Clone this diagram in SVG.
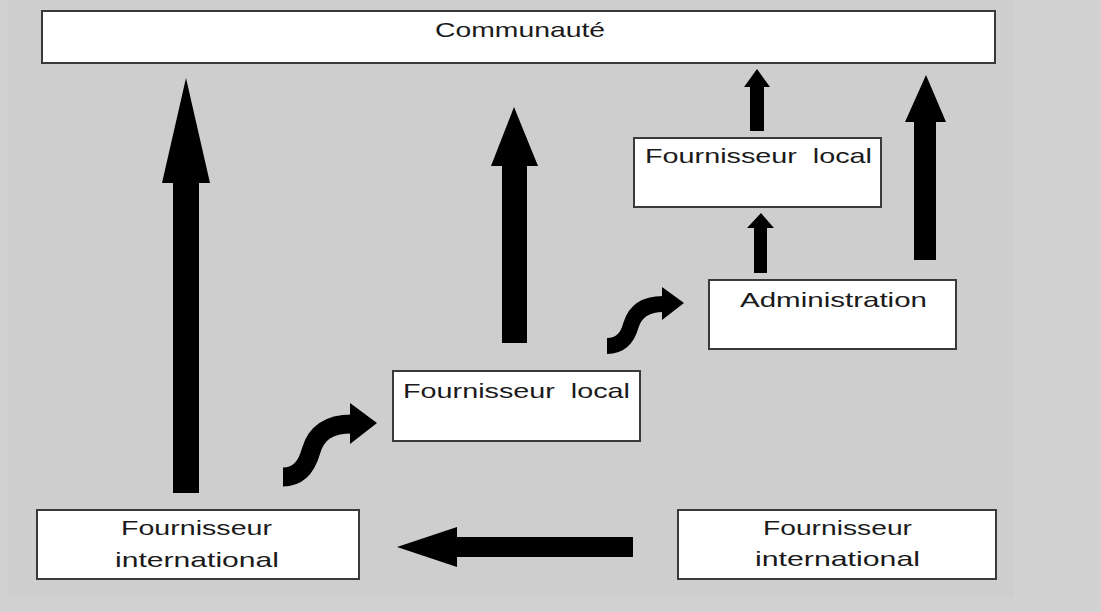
<svg xmlns="http://www.w3.org/2000/svg" width="1101" height="612" viewBox="0 0 1101 612">
<style>
.box{fill:#ffffff;stroke:#3a3a3a;stroke-width:2}
.lbl{font-family:"Liberation Sans","DejaVu Sans",sans-serif;font-size:21px;fill:#1a1a1a}
.arr{fill:#000000}
.curve{fill:none;stroke:#000000}
</style>
<rect x="0" y="0" width="1101" height="612" fill="#d2d2d2"/>
<rect x="8" y="0" width="1006" height="597" fill="#cecece"/>
<g id="connectors">
<polygon class="arr" points="186,78 210,183 199,183 199,493 173,493 173,183 162,183"/>
<polygon class="arr" points="514,107 538,166 527,166 527,343 502,343 502,166 491,166"/>
<polygon class="arr" points="926,75 946,122 936,122 936,260 914,260 914,122 905,122"/>
<polygon class="arr" points="757,69 770,87 764,87 764,131 750,131 750,87 744,87"/>
<polygon class="arr" points="761,213 774,228 767,228 767,273 754,273 754,228 747,228"/>
<polygon class="arr" points="397,547 457,527 457,537 633,537 633,557 457,557 457,567"/>
<path class="curve" stroke-width="19" d="M283,477 C300,477 307,465 311,451 C316,434 327,424 352,424"/>
<polygon class="arr" points="350,403 377,423 350,444"/>
<path class="curve" stroke-width="16" d="M607,346 C622,346 628,336 631,325 C635,312 645,304 663,304"/>
<polygon class="arr" points="662,287 684,303 662,320"/>
</g>
<g id="communaute">
<rect class="box" x="42" y="11" width="953" height="52"/>
<text class="lbl" x="435" y="37" textLength="170" lengthAdjust="spacingAndGlyphs">Communauté</text>
</g>
<g id="fournisseur-local-haut">
<rect class="box" x="634" y="138" width="247" height="69"/>
<text class="lbl" x="645" y="163" textLength="227" lengthAdjust="spacingAndGlyphs">Fournisseur&#160; local</text>
</g>
<g id="administration">
<rect class="box" x="709" y="280" width="247" height="69"/>
<text class="lbl" x="740" y="307" textLength="187" lengthAdjust="spacingAndGlyphs">Administration</text>
</g>
<g id="fournisseur-local-milieu">
<rect class="box" x="393" y="371" width="247" height="70"/>
<text class="lbl" x="403" y="398" textLength="227" lengthAdjust="spacingAndGlyphs">Fournisseur&#160; local</text>
</g>
<g id="fournisseur-international-gauche">
<rect class="box" x="37" y="510" width="322" height="69"/>
<text class="lbl" x="121" y="535" textLength="151" lengthAdjust="spacingAndGlyphs">Fournisseur</text>
<text class="lbl" x="115" y="567" textLength="164" lengthAdjust="spacingAndGlyphs">international</text>
</g>
<g id="fournisseur-international-droite">
<rect class="box" x="678" y="510" width="318" height="69"/>
<text class="lbl" x="763" y="535" textLength="149" lengthAdjust="spacingAndGlyphs">Fournisseur</text>
<text class="lbl" x="755" y="566" textLength="165" lengthAdjust="spacingAndGlyphs">international</text>
</g>
</svg>
